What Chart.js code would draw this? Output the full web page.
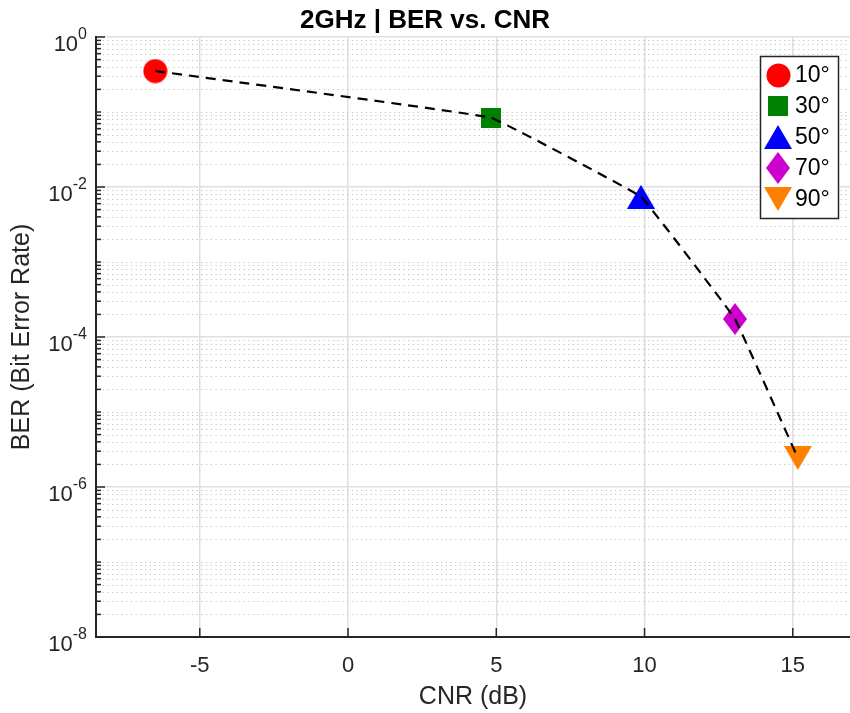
<!DOCTYPE html>
<html lang="en">
<head>
    <meta charset="UTF-8">
    <title>2GHz | BER vs. CNR</title>
    <style>
body {
    margin: 0;
    padding: 0;
    background-color: #fff;
}

#chart-container {
    width: 850px;
    height: 713px;
}
    </style>
</head>
<body>
    <div id="chart-container">
        <canvas id="berChart" width="850" height="713"></canvas>
    </div>

    <script src="https://cdn.jsdelivr.net/npm/chart.js"></script>
    <script>
        // Data
        const elevations = ['10°', '30°', '50°', '70°', '90°'];
        const cnr = [-6.5, 4.82, 9.88, 13.05, 15.17];
        const ber = [0.352, 0.0839, 0.0074, 1.74e-4, 2.44e-6];
        const markerColors = ['#ff0000', '#008000', '#0000ff', '#cc00cc', '#ff8000'];
        const markerShapes = ['circle', 'square', 'triUp', 'diamond', 'triDown'];

        // Axis ticks
        const xTicks = [-5, 0, 5, 10, 15];
        const yMajorExp = [0, -2, -4, -6, -8];

        const FONT = "'Liberation Sans', Arial, Helvetica, sans-serif";
        const AXIS_COLOR = '#262626';

        // Build marker images (MATLAB style filled markers)
        function makeMarker(shape, color) {
            const c = document.createElement('canvas');
            let w = 24, h = 24;
            if (shape === 'circle') { w = 25; h = 25; }
            if (shape === 'square') { w = 20; h = 20; }
            if (shape === 'triUp' || shape === 'triDown') { w = 28; h = 24; }
            if (shape === 'diamond') { w = 24; h = 32; }
            c.width = w;
            c.height = h;
            const g = c.getContext('2d');
            g.fillStyle = color;
            g.beginPath();
            if (shape === 'circle') {
                g.arc(w / 2, h / 2, 12, 0, Math.PI * 2);
            } else if (shape === 'square') {
                g.rect(0, 0, w, h);
            } else if (shape === 'triUp') {
                g.moveTo(w / 2, 0); g.lineTo(w, h); g.lineTo(0, h);
            } else if (shape === 'triDown') {
                g.moveTo(0, 0); g.lineTo(w, 0); g.lineTo(w / 2, h);
            } else if (shape === 'diamond') {
                g.moveTo(w / 2, 0); g.lineTo(w, h / 2); g.lineTo(w / 2, h); g.lineTo(0, h / 2);
            }
            g.closePath();
            g.fill();
            return c;
        }

        const markers = markerShapes.map((s, i) => makeMarker(s, markerColors[i]));

        // Datasets: dashed curve first so it is drawn on top of the markers
        const datasets = [{
            label: 'curve',
            data: cnr.map((x, i) => ({ x: x, y: ber[i] })),
            showLine: true,
            borderColor: '#000',
            borderWidth: 2.2,
            borderDash: [10, 7],
            pointRadius: 0,
            tension: 0.05
        }];
        elevations.forEach((label, i) => {
            datasets.push({
                label: label,
                data: [{ x: cnr[i], y: ber[i] }],
                pointStyle: markers[i],
                pointRadius: 12,
                backgroundColor: markerColors[i],
                borderColor: markerColors[i]
            });
        });

        // Minor dotted grid, inward ticks, superscript y labels and legend box
        const matlabAxes = {
            id: 'matlabAxes',
            beforeDatasetsDraw(chart) {
                const { ctx, chartArea, scales } = chart;
                const y = scales.y;
                ctx.save();
                ctx.strokeStyle = '#c4c4c4';
                ctx.lineWidth = 1.2;
                ctx.setLineDash([1.2, 3.5]);
                for (let k = -8; k < 0; k++) {
                    for (let m = 1; m <= 9; m++) {
                        if (m === 1 && k % 2 === 0) continue;
                        const py = Math.round(y.getPixelForValue(m * Math.pow(10, k))) + 0.5;
                        ctx.beginPath();
                        ctx.moveTo(chartArea.left + 2, py);
                        ctx.lineTo(chartArea.right, py);
                        ctx.stroke();
                    }
                }
                ctx.restore();
            },
            afterDraw(chart) {
                const { ctx, chartArea, scales } = chart;
                const x = scales.x, y = scales.y;
                ctx.save();
                // tick marks pointing into the plot
                ctx.strokeStyle = AXIS_COLOR;
                ctx.lineWidth = 1.5;
                for (let k = -8; k <= 0; k++) {
                    for (let m = 1; m <= 9; m++) {
                        if (k === 0 && m > 1) continue;
                        const v = m * Math.pow(10, k);
                        const len = (m === 1 && k % 2 === 0) ? 9 : 5;
                        const py = y.getPixelForValue(v);
                        ctx.beginPath();
                        ctx.moveTo(chartArea.left, py);
                        ctx.lineTo(chartArea.left + len, py);
                        ctx.stroke();
                    }
                }
                xTicks.forEach(t => {
                    const px = x.getPixelForValue(t);
                    ctx.beginPath();
                    ctx.moveTo(px, chartArea.bottom);
                    ctx.lineTo(px, chartArea.bottom - 9);
                    ctx.stroke();
                });

                // y labels 10^n
                ctx.fillStyle = AXIS_COLOR;
                ctx.textBaseline = 'alphabetic';
                yMajorExp.forEach(e => {
                    const py = y.getPixelForValue(Math.pow(10, e));
                    const expText = String(e);
                    ctx.font = '16px ' + FONT;
                    const expW = ctx.measureText(expText).width;
                    ctx.textAlign = 'right';
                    ctx.fillText(expText, 87, py + 2);
                    ctx.font = '22px ' + FONT;
                    ctx.fillText('10', 87 - expW, py + 13.5);
                });

                // legend
                const lx = 760.5, ly = 56.5, lw = 78, lh = 162;
                ctx.fillStyle = '#fff';
                ctx.fillRect(lx, ly, lw, lh);
                ctx.strokeStyle = AXIS_COLOR;
                ctx.lineWidth = 1.5;
                ctx.strokeRect(lx, ly, lw, lh);
                ctx.font = '23px ' + FONT;
                ctx.textAlign = 'left';
                ctx.textBaseline = 'middle';
                ctx.fillStyle = '#000';
                elevations.forEach((label, i) => {
                    const cy = 75 + i * 31;
                    const img = markers[i];
                    ctx.drawImage(img, Math.round(778 - img.width / 2), Math.round(cy - img.height / 2));
                    ctx.fillText(label, 795, cy + 1);
                });
                ctx.restore();
            }
        };

        const ctx = document.getElementById('berChart').getContext('2d');
        const chart = new Chart(ctx, {
            type: 'scatter',
            data: { datasets: datasets },
            plugins: [matlabAxes],
            options: {
                responsive: false,
                animation: false,
                layout: { padding: 0, autoPadding: false },
                plugins: {
                    legend: { display: false },
                    tooltip: { enabled: false },
                    title: {
                        display: true,
                        text: '2GHz | BER vs. CNR',
                        color: '#000',
                        font: { family: FONT, size: 26, weight: 'bold' },
                        padding: { top: 5, bottom: 0.8 }
                    }
                },
                scales: {
                    x: {
                        type: 'linear',
                        min: -8.5,
                        max: 16.93,
                        afterBuildTicks: (scale) => {
                            scale.ticks = xTicks.map(v => ({ value: v }));
                        },
                        afterFit: (scale) => {
                            scale.height = 76;
                            scale.paddingLeft = 0;
                            scale.paddingRight = 0;
                        },
                        grid: { color: '#dfdfdf', lineWidth: 1.5, drawTicks: false },
                        border: { display: true, color: AXIS_COLOR, width: 2 },
                        ticks: {
                            color: AXIS_COLOR,
                            padding: 16,
                            font: { family: FONT, size: 22 },
                            maxRotation: 0
                        },
                        title: {
                            display: true,
                            text: 'CNR (dB)',
                            color: AXIS_COLOR,
                            font: { family: FONT, size: 25 },
                            padding: { top: 0, bottom: 1 }
                        }
                    },
                    y: {
                        type: 'logarithmic',
                        min: 1e-8,
                        max: 1,
                        afterBuildTicks: (scale) => {
                            scale.ticks = yMajorExp.map(e => ({ value: Math.pow(10, e) }));
                        },
                        afterFit: (scale) => { scale.width = 96; },
                        grid: { color: '#dfdfdf', lineWidth: 1.5, drawTicks: false },
                        border: { display: true, color: AXIS_COLOR, width: 2 },
                        ticks: { display: false },
                        title: {
                            display: true,
                            text: 'BER (Bit Error Rate)',
                            color: AXIS_COLOR,
                            font: { family: FONT, size: 25 },
                            padding: { top: 7, bottom: 0 }
                        }
                    }
                }
            }
        });
    </script>
</body>
</html>
